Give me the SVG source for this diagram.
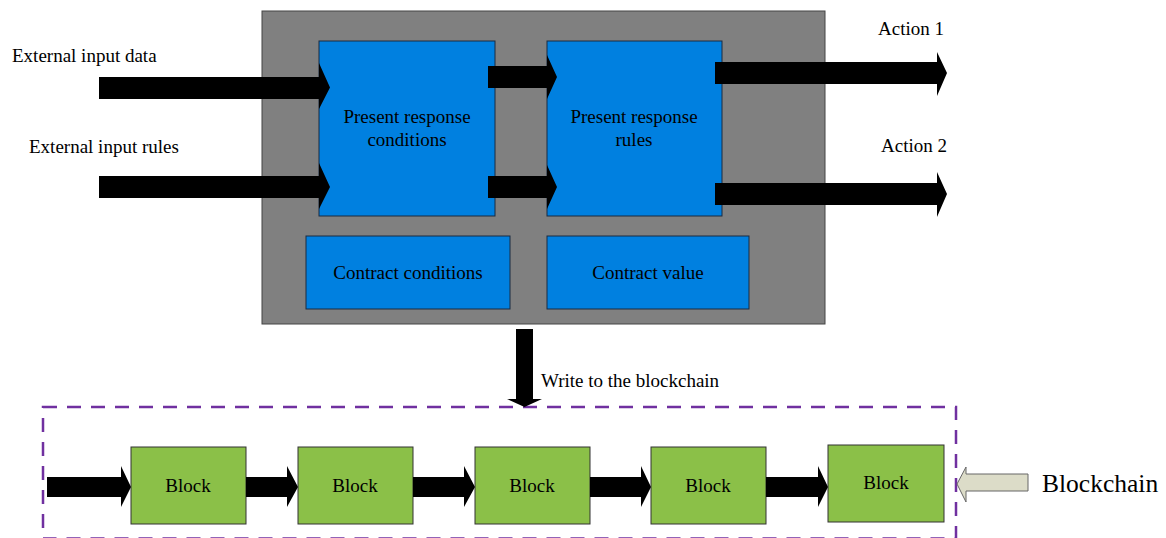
<svg xmlns="http://www.w3.org/2000/svg" width="1166" height="538" viewBox="0 0 1166 538">
<style>
text{font-family:"Liberation Serif","Times New Roman",serif;font-size:19px;fill:#000}
.gray{fill:#808080;stroke:#444;stroke-width:1}
.blue{fill:#0080E0;stroke:#1a2a40;stroke-width:1}
.green{fill:#8BC048;stroke:#333;stroke-width:1}
.arr{fill:#000}
.mid{text-anchor:middle}
</style>
<rect width="1166" height="538" fill="#fff"/>
<g id="contract">
<rect class="gray" x="262" y="11" width="563" height="313"/>
</g>
<g id="present-response-conditions">
<rect class="blue" x="319" y="41" width="176" height="175"/>
<text class="mid" x="407" y="123">Present response</text>
<text class="mid" x="407" y="146">conditions</text>
</g>
<g id="present-response-rules">
<rect class="blue" x="547" y="41" width="175" height="175"/>
<text class="mid" x="634" y="123">Present response</text>
<text class="mid" x="634" y="146">rules</text>
</g>
<g id="contract-conditions">
<rect class="blue" x="306" y="236" width="204" height="73"/>
<text class="mid" x="408" y="279">Contract conditions</text>
</g>
<g id="contract-value">
<rect class="blue" x="547" y="236" width="202" height="73"/>
<text class="mid" x="648" y="279">Contract value</text>
</g>
<g id="labels">
<text x="12" y="62">External input data</text>
<text x="29" y="153">External input rules</text>
<text x="878" y="35">Action 1</text>
<text x="881" y="152">Action 2</text>
<text x="541" y="387">Write to the blockchain</text>
</g>
<g id="blockchain-frame">
<rect x="43" y="407" width="913" height="131.5" fill="none" stroke="#7030A0" stroke-width="2.5" stroke-dasharray="14,10"/>
</g>
<g id="block1"><rect class="green" x="131" y="447" width="115" height="77"/><text class="mid" x="188" y="492">Block</text></g>
<g id="block2"><rect class="green" x="298" y="447" width="115" height="77"/><text class="mid" x="355" y="492">Block</text></g>
<g id="block3"><rect class="green" x="475" y="447" width="115" height="77"/><text class="mid" x="532" y="492">Block</text></g>
<g id="block4"><rect class="green" x="651" y="447" width="115" height="77"/><text class="mid" x="708" y="492">Block</text></g>
<g id="block5"><rect class="green" x="828" y="445" width="116" height="77"/><text class="mid" x="886" y="489">Block</text></g>
<g id="blockchain-label">
<path d="M1028,474 L966,474 L966,467 L957,484 L966,502 L966,491 L1028,491 Z" fill="#DCDCC8" stroke="#666" stroke-width="1"/>
<text x="1042" y="492" style="font-size:25.5px">Blockchain</text>
</g>
<g id="connectors">
<path class="arr" d="M99,77 L319,77 L319,63 L330,87.5 L319,109 L319,99 L99,99 Z"/>
<path class="arr" d="M99,176 L319,176 L319,163 L330,187 L319,209 L319,198 L99,198 Z"/>
<path class="arr" d="M488,66 L547,66 L547,55 L557,77 L547,99 L547,88 L488,88 Z"/>
<path class="arr" d="M488,176 L547,176 L547,165 L557,187 L547,209 L547,198 L488,198 Z"/>
<path class="arr" d="M715,62 L937,62 L937,52 L947,73 L937,96 L937,84 L715,84 Z"/>
<path class="arr" d="M715,183 L937,183 L937,172 L947,194 L937,217 L937,205 L715,205 Z"/>
<path class="arr" d="M516,329 L533,329 L533,399 L542,399 L524.5,407 L507,399 L516,399 Z"/>
<path class="arr" d="M47,477 L121,477 L121,466 L131,487 L121,507 L121,497 L47,497 Z"/>
<path class="arr" d="M246,477 L287,477 L287,466 L298,487 L287,507 L287,497 L246,497 Z"/>
<path class="arr" d="M413,477 L464,477 L464,466 L475,487 L464,507 L464,497 L413,497 Z"/>
<path class="arr" d="M590,477 L641,477 L641,466 L651,487 L641,507 L641,497 L590,497 Z"/>
<path class="arr" d="M766,477 L818,477 L818,466 L828,487 L818,507 L818,497 L766,497 Z"/>
</g>
</svg>
